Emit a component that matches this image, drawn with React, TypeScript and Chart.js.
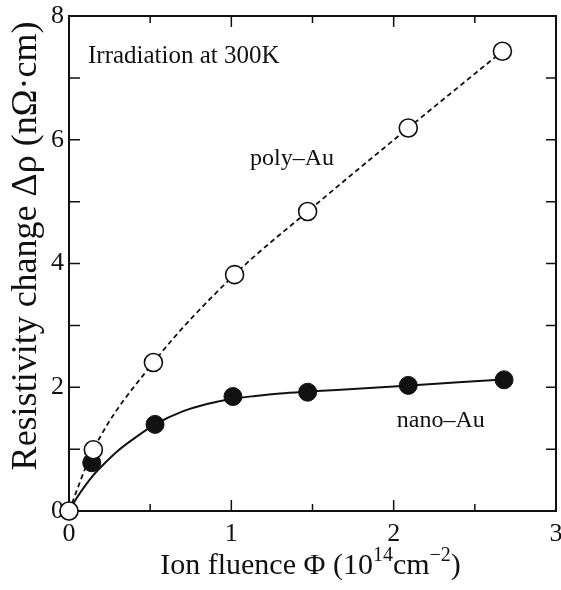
import React, { useEffect, useRef } from "react";
import { Chart, registerables } from "chart.js";

Chart.register(...registerables);

// Ion fluence (10^14 cm^-2)
const polyX = [0, 0.15, 0.52, 1.02, 1.47, 2.09, 2.67];
const polyY = [0, 0.99, 2.4, 3.82, 4.84, 6.19, 7.43];
const nanoX = [0, 0.14, 0.53, 1.01, 1.47, 2.09, 2.68];
const nanoY = [0, 0.78, 1.4, 1.85, 1.92, 2.03, 2.12];
// Fitted curve for nano-Au
const nanoFitX = [0, 0.05, 0.1, 0.15, 0.2, 0.3, 0.4, 0.53, 0.7, 0.85, 1.0, 1.15, 1.3, 1.47, 1.8, 2.1, 2.4, 2.7];
const nanoFitY = [0, 0.22, 0.41, 0.58, 0.72, 0.97, 1.17, 1.4, 1.61, 1.73, 1.81, 1.86, 1.9, 1.93, 1.98, 2.03, 2.08, 2.13];

const xTickValues = [0, 1, 2, 3];
const xTickLabels = ["0", "1", "2", "3"];
const yTickLabels = ["0", "2", "4", "6", "8"];

const FONT = "'Liberation Serif', 'Times New Roman', serif";

const toPts = (xs: number[], ys: number[]) => xs.map((x, i) => ({ x, y: ys[i] }));

const framePlugin = {
  id: "frame",
  beforeDatasetsDraw(chart: any) {
    const { ctx, chartArea: a, scales } = chart;
    const xs = scales.x;
    const ys = scales.y;
    ctx.save();
    ctx.strokeStyle = "#111";
    ctx.lineWidth = 2;
    ctx.strokeRect(a.left, a.top, a.right - a.left, a.bottom - a.top);
    ctx.lineWidth = 1.5;
    for (let v = 0.5; v < 3; v += 0.5) {
      const px = xs.getPixelForValue(v);
      const len = Math.abs(v - Math.round(v)) < 1e-6 ? 11 : 7;
      ctx.beginPath();
      ctx.moveTo(px, a.bottom);
      ctx.lineTo(px, a.bottom - len);
      ctx.moveTo(px, a.top);
      ctx.lineTo(px, a.top + len);
      ctx.stroke();
    }
    for (let v = 1; v < 8; v += 1) {
      const py = ys.getPixelForValue(v);
      ctx.beginPath();
      ctx.moveTo(a.left, py);
      ctx.lineTo(a.left + 11, py);
      ctx.moveTo(a.right, py);
      ctx.lineTo(a.right - 10, py);
      ctx.stroke();
    }
    // x tick labels
    ctx.fillStyle = "#111";
    ctx.font = `26px ${FONT}`;
    ctx.textAlign = "center";
    ctx.textBaseline = "alphabetic";
    xTickValues.forEach((v, i) => {
      ctx.fillText(xTickLabels[i], xs.getPixelForValue(v), a.bottom + 30);
    });
    ctx.restore();
  },
  afterDraw(chart: any) {
    const { ctx, chartArea: a, scales } = chart;
    const xs = scales.x;
    const ys = scales.y;
    ctx.save();
    ctx.fillStyle = "#111";
    // annotations
    ctx.font = `25px ${FONT}`;
    ctx.textAlign = "left";
    ctx.textBaseline = "alphabetic";
    ctx.fillText("Irradiation at 300K", xs.getPixelForValue(0.117), ys.getPixelForValue(7.24));
    ctx.font = `24px ${FONT}`;
    ctx.textAlign = "center";
    ctx.fillText("poly\u2013Au", xs.getPixelForValue(1.374), ys.getPixelForValue(5.59));
    ctx.fillText("nano\u2013Au", xs.getPixelForValue(2.29), ys.getPixelForValue(1.36));

    // x axis title with superscripts
    const main = 30;
    const sup = 20;
    const parts: [string, boolean][] = [
      ["Ion fluence \u03A6 (10", false],
      ["14", true],
      ["cm", false],
      ["\u22122", true],
      [")", false],
    ];
    let total = 0;
    for (const [t, s] of parts) {
      ctx.font = `${s ? sup : main}px ${FONT}`;
      total += ctx.measureText(t).width;
    }
    let cx = (a.left + a.right) / 2 - total / 2 - 2;
    const base = 574;
    ctx.textAlign = "left";
    for (const [t, s] of parts) {
      ctx.font = `${s ? sup : main}px ${FONT}`;
      ctx.fillText(t, cx, s ? base - 13 : base);
      cx += ctx.measureText(t).width;
    }

    // y axis title
    ctx.translate(36, 246);
    ctx.rotate(-Math.PI / 2);
    ctx.font = `36px ${FONT}`;
    ctx.textAlign = "center";
    ctx.fillText("Resistivity change \u0394\u03C1 (n\u03A9\u00B7cm)", 0, 0);
    ctx.restore();
  },
};

export default function App() {
  const ref = useRef<HTMLCanvasElement>(null);
  useEffect(() => {
    document.body.style.margin = "0";
    const chart = new Chart(ref.current as HTMLCanvasElement, {
      type: "line",
      data: {
        datasets: [
          {
            label: "poly-Au points",
            data: toPts(polyX, polyY),
            showLine: false,
            pointRadius: 9,
            pointBackgroundColor: "#fff",
            pointBorderColor: "#111",
            pointBorderWidth: 1.6,
            clip: false as any,
            order: 0,
          },
          {
            label: "nano-Au points",
            data: toPts(nanoX, nanoY),
            showLine: false,
            pointRadius: 9,
            pointBackgroundColor: "#111",
            pointBorderColor: "#111",
            pointBorderWidth: 1,
            clip: false as any,
            order: 1,
          },
          {
            label: "poly-Au line",
            data: toPts(polyX, polyY),
            borderColor: "#111",
            borderWidth: 1.8,
            borderDash: [5, 3.5],
            pointRadius: 0,
            cubicInterpolationMode: "monotone",
            fill: false,
            order: 2,
          },
          {
            label: "nano-Au fit",
            data: toPts(nanoFitX, nanoFitY),
            borderColor: "#111",
            borderWidth: 2,
            pointRadius: 0,
            cubicInterpolationMode: "monotone",
            fill: false,
            order: 3,
          },
        ],
      },
      options: {
        animation: false,
        responsive: false,
        events: [],
        layout: { autoPadding: false, padding: { top: 16, right: 5, left: 0, bottom: 0 } },
        plugins: { legend: { display: false }, tooltip: { enabled: false } },
        scales: {
          x: {
            type: "linear",
            min: 0,
            max: 3,
            grid: { display: false, drawTicks: false },
            border: { display: false },
            ticks: { display: false, stepSize: 1 },
            afterFit: (s: any) => {
              s.height = 79;
            },
          },
          y: {
            type: "linear",
            min: 0,
            max: 8,
            grid: { display: false, drawTicks: false },
            border: { display: false },
            ticks: {
              stepSize: 2,
              padding: 5,
              color: "#111",
              font: { family: FONT, size: 26 },
              callback: (v: any) => yTickLabels[Math.round(v / 2)] ?? "",
            },
            afterFit: (s: any) => {
              s.width = 69;
              s.paddingTop = 0;
              s.paddingBottom = 0;
            },
          },
        },
      },
      plugins: [framePlugin],
    });
    return () => chart.destroy();
  }, []);
  return (
    <div style={{ width: 561, height: 590 }}>
      <canvas ref={ref} width={561} height={590} />
    </div>
  );
}
